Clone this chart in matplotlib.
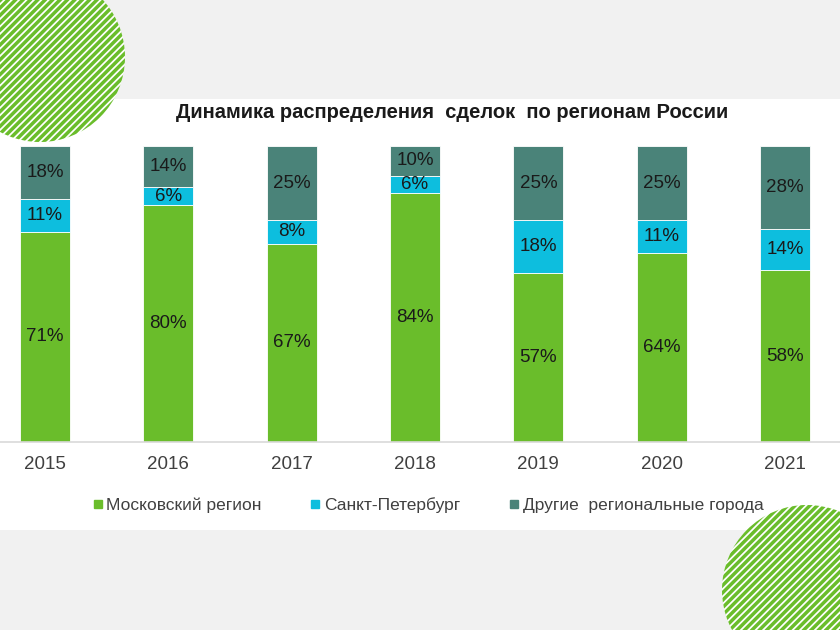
import numpy as np
import matplotlib
matplotlib.use('Agg')
import matplotlib.pyplot as plt
from matplotlib.patches import Circle, Rectangle
from matplotlib.lines import Line2D

plt.rcParams['font.family'] = ['Liberation Sans', 'DejaVu Sans']

years = ['2015', '2016', '2017', '2018', '2019', '2020', '2021']
moscow = [71, 80, 67, 84, 57, 64, 58]
spb = [11, 6, 8, 6, 18, 11, 14]
other = [18, 14, 25, 10, 25, 25, 28]
series_names = ['Московский регион', 'Санкт-Петербург', 'Другие  региональные города']
colors = ['#6abd2b', '#0dbede', '#4a8379']

title = 'Динамика распределения  сделок  по регионам России'

W, H = 840, 630
fig = plt.figure(figsize=(W / 100, H / 100), dpi=100, facecolor='#f1f1f1')

# white panel behind the chart
bg = fig.add_axes([0, 0, 1, 1], zorder=0)
bg.set_xlim(0, W)
bg.set_ylim(H, 0)
bg.axis('off')
bg.add_patch(Rectangle((0, 99), W, 431, facecolor='white', edgecolor='none'))

# chart
ax = fig.add_axes([0, (H - 442) / H, 1, (442 - 146) / H], zorder=1)
ax.patch.set_alpha(0)
x = np.arange(len(years))
width = 0.405
bottom = np.zeros(len(years))
for vals, col in zip([moscow, spb, other], colors):
    bars = ax.bar(x, vals, width, bottom=bottom, color=col, edgecolor='white', linewidth=0.6)
    for b, v, b0 in zip(bars, vals, bottom):
        ax.text(b.get_x() + b.get_width() / 2, b0 + v / 2, f'{v}%',
                ha='center', va='center', fontsize=13.5, color='#1a1a1a')
    bottom += np.array(vals)

ax.set_xlim(-0.365, 6.446)
ax.set_ylim(0, 100)
ax.set_xticks(x)
ax.set_xticklabels(years, fontsize=13.5, color='#404040')
ax.tick_params(axis='x', length=0, pad=10)
ax.set_yticks([])
for s in ['top', 'left', 'right']:
    ax.spines[s].set_visible(False)
ax.spines['bottom'].set_color('#d9d9d9')
ax.spines['bottom'].set_linewidth(1.2)

fig.text(452 / W, (H - 112) / H, title, ha='center', va='center',
         fontsize=14.5, fontweight='bold', color='#1a1a1a')

handles = [Line2D([], [], marker='s', linestyle='none', markersize=6,
                  markerfacecolor=c, markeredgecolor=c) for c in colors]
fig.legend(handles, series_names, loc='center', bbox_to_anchor=(428 / W, (H - 505) / H),
           ncol=3, frameon=False, fontsize=12.5, handlelength=0.6, handletextpad=0.2,
           columnspacing=2.8, labelcolor='#404040')

# decorative hatched circles
deco = fig.add_axes([0, 0, 1, 1], zorder=3)
deco.set_xlim(0, W)
deco.set_ylim(H, 0)
deco.axis('off')
for cx, cy in [(40, 57), (807, 590)]:
    circ = Circle((cx, cy), 85, facecolor='white', edgecolor='none')
    deco.add_patch(circ)
    for c in np.arange(cx + cy - 200, cx + cy + 200, 7.4):
        ln, = deco.plot([cx - 100, cx + 100], [c - cx + 100, c - cx - 100],
                        color='#6abd2b', lw=2.5, solid_capstyle='butt')
        ln.set_clip_path(circ)

fig.savefig('out.png', dpi=100, facecolor=fig.get_facecolor())
